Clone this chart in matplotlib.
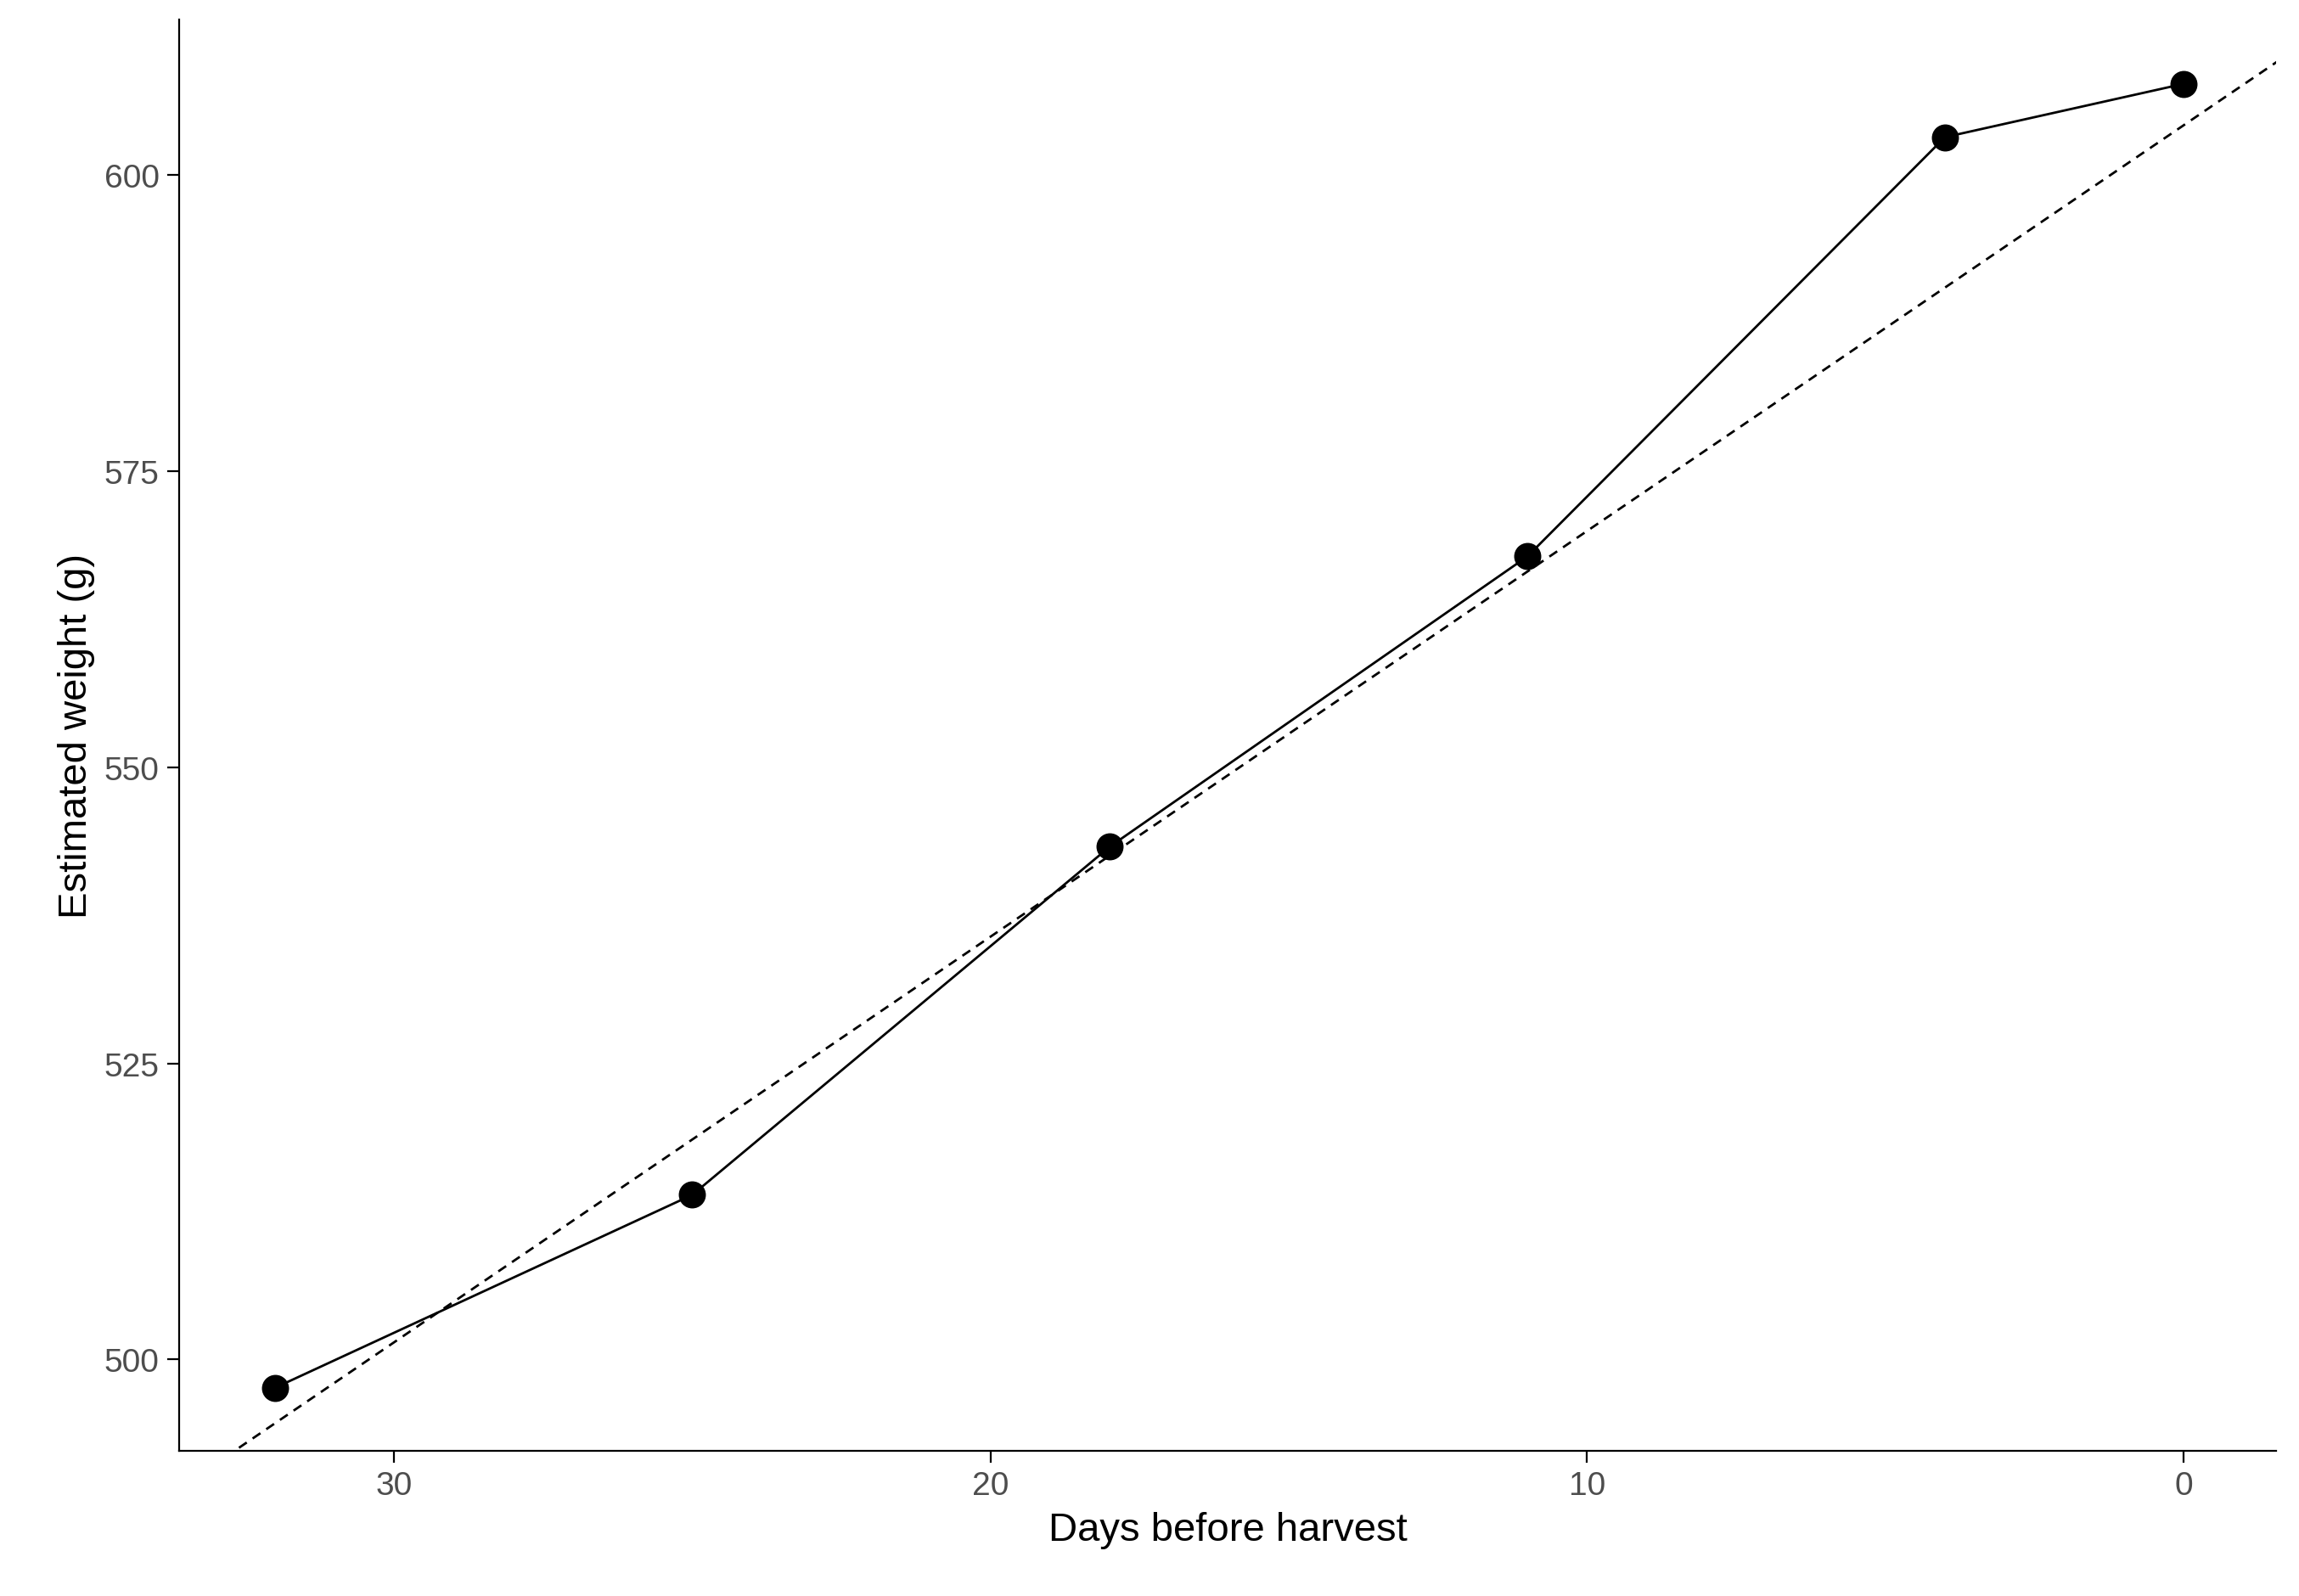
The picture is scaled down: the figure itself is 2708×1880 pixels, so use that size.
import matplotlib.pyplot as plt
import numpy as np

plt.rcParams['font.family'] = ['Liberation Sans', 'DejaVu Sans']

days = [32, 25, 18, 11, 4, 0]
weight = [497.6, 513.9, 543.3, 567.8, 603.2, 607.7]

# dashed trend line
trend_intercept = 604.2
trend_slope = -3.425

fig = plt.figure(figsize=(13.54, 9.405), dpi=200)
ax = fig.add_axes([0.078, 0.091, 0.912, 0.896])

xs = np.array([32.6, -1.6])
ax.plot(xs, trend_intercept + trend_slope * xs, ls=(0, (4, 3)), color="black", lw=1.0)

ax.plot(days, weight, color="black", lw=1.0)
ax.scatter(days, weight, s=110, color="black", zorder=3)

ax.set_xlim(33.6, -1.55)
ax.set_ylim(492.3, 613.1)
ax.set_xticks([30, 20, 10, 0])
ax.set_yticks([500, 525, 550, 575, 600])
for s in ["top", "right"]:
    ax.spines[s].set_visible(False)
ax.tick_params(labelsize=14, labelcolor="#4d4d4d", length=5)
ax.set_xlabel("Days before harvest", fontsize=17)
ax.set_ylabel("Estimated weight (g)", fontsize=17)

fig.savefig("out.png")
